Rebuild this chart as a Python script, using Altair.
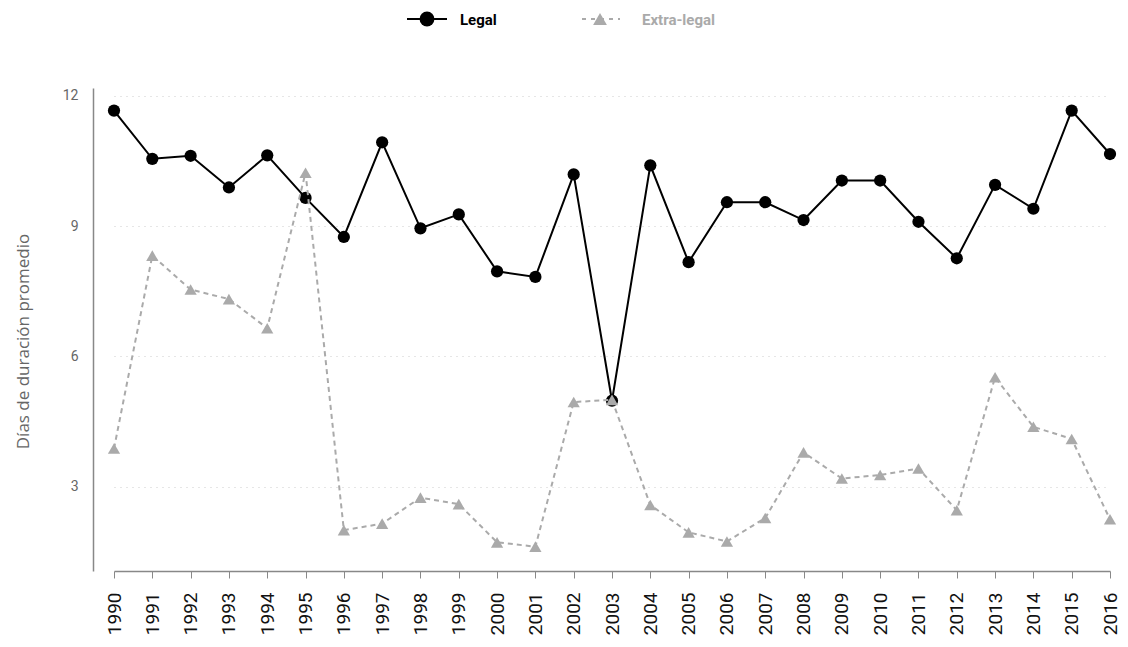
import altair as alt
import pandas as pd

years = [str(y) for y in range(1990, 2017)]
legal = [11.66, 10.55, 10.62, 9.89, 10.63, 9.65, 8.75, 10.93, 8.95, 9.27,
         7.96, 7.83, 10.19, 4.98, 10.40, 8.17, 9.55, 9.55, 9.14, 10.05,
         10.05, 9.10, 8.26, 9.95, 9.40, 11.66, 10.66]
extra = [3.88, 8.32, 7.54, 7.32, 6.65, 10.23, 2.00, 2.15, 2.75, 2.60,
         1.72, 1.62, 4.95, 5.00, 2.58, 1.95, 1.74, 2.28, 3.79, 3.19,
         3.27, 3.42, 2.46, 5.52, 4.38, 4.10, 2.25]
series_names = ["Legal", "Extra-legal"]
y_ticks = [3, 6, 9, 12]

df = pd.DataFrame({
    "year": years * 2,
    "value": legal + extra,
    "serie": [series_names[0]] * len(years) + [series_names[1]] * len(years),
})

FONT = "Roboto"
W, H = 1027, 483

x_enc = alt.X("year:O", scale=alt.Scale(type="point", range=[21, 1017], padding=0),
              axis=alt.Axis(title=None, labelAngle=-90, labelFontSize=19, labelColor="#111",
                            labelFont=FONT, labelPadding=14, tickColor="#888", tickSize=7,
                            domainColor="#888", domainWidth=1.5, grid=False,
                            labelBaseline="middle", labelAlign="right"))
y_enc = alt.Y("value:Q", scale=alt.Scale(domain=[1.06, 12.18], nice=False, zero=False),
              axis=alt.Axis(values=y_ticks, title="Días de duración promedio",
                            titleFontSize=17, titleFont="Open Sans", titleColor="#666",
                            titleFontWeight="normal", titlePadding=30, titleY=253,
                            labelFontSize=14, labelColor="#666", labelFont=FONT,
                            labelPadding=15, ticks=False, domainColor="#888",
                            domainWidth=1.5, grid=True, gridColor="#ccc",
                            gridDash=[1, 5], gridWidth=1))

base = alt.Chart(df)

legal_line = base.transform_filter(alt.datum.serie == "Legal").mark_line(
    color="#000", strokeWidth=2).encode(x=x_enc, y=y_enc)
legal_pts = base.transform_filter(alt.datum.serie == "Legal").mark_point(
    shape="circle", filled=True, color="#000", size=150, opacity=1).encode(x=x_enc, y=y_enc)
extra_line = base.transform_filter(alt.datum.serie == "Extra-legal").mark_line(
    color="#aaa", strokeWidth=2, strokeDash=[5, 4]).encode(x=x_enc, y=y_enc)
extra_pts = base.transform_filter(alt.datum.serie == "Extra-legal").mark_point(
    shape="triangle-up", filled=True, color="#aaa", size=150, opacity=1).encode(x=x_enc, y=y_enc)

leg_df = pd.DataFrame({"label": series_names})
lg = alt.Chart(leg_df)
ly = -69
leg1_rule = lg.transform_filter(alt.datum.label == "Legal").mark_rule(
    color="#000", strokeWidth=2).encode(x=alt.value(314), x2=alt.value(354), y=alt.value(ly))
leg1_pt = lg.transform_filter(alt.datum.label == "Legal").mark_point(
    shape="circle", filled=True, color="#000", size=220, opacity=1).encode(
    x=alt.value(334), y=alt.value(ly))
leg1_txt = lg.transform_filter(alt.datum.label == "Legal").mark_text(
    align="left", baseline="middle", fontSize=15, fontWeight="bold", font=FONT,
    color="#000").encode(x=alt.value(367), y=alt.value(ly + 1), text="label:N")
leg2_rule = lg.transform_filter(alt.datum.label == "Extra-legal").mark_rule(
    color="#aaa", strokeWidth=2, strokeDash=[4, 5]).encode(
    x=alt.value(489), x2=alt.value(527), y=alt.value(ly))
leg2_pt = lg.transform_filter(alt.datum.label == "Extra-legal").mark_point(
    shape="triangle-up", filled=True, color="#aaa", size=190, opacity=1).encode(
    x=alt.value(507), y=alt.value(ly))
leg2_txt = lg.transform_filter(alt.datum.label == "Extra-legal").mark_text(
    align="left", baseline="middle", fontSize=15, fontWeight="bold", font=FONT,
    color="#aaa").encode(x=alt.value(549), y=alt.value(ly + 1), text="label:N")

chart = alt.layer(
    legal_line, legal_pts, extra_line, extra_pts,
    leg1_rule, leg1_pt, leg1_txt, leg2_rule, leg2_pt, leg2_txt,
).properties(
    width=W, height=H,
    autosize=alt.AutoSizeParams(type="none"),
    padding={"left": 85, "top": 80, "right": 0, "bottom": 72},
    background="white",
).configure_view(stroke=None)

chart.save("out.html", embed_options={"renderer": "svg", "actions": False})
